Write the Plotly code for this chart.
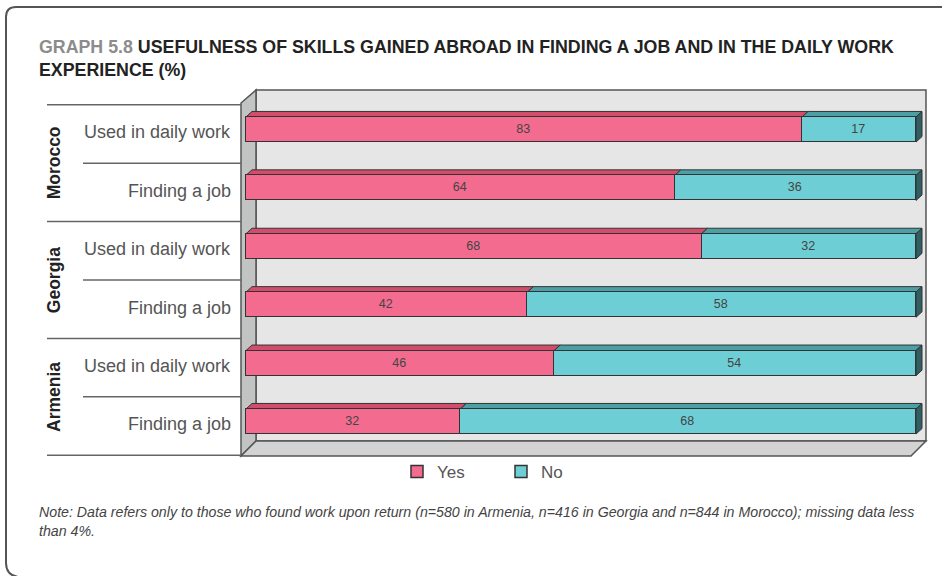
import plotly.graph_objects as go

# ---------------- data ----------------
countries = ["Morocco", "Georgia", "Armenia"]
items = ["Used in daily work", "Finding a job"]
yes_vals = [83, 64, 68, 42, 46, 32]
no_vals = [17, 36, 32, 58, 54, 68]
series_names = ["Yes", "No"]
title_prefix = "GRAPH 5.8"
title_line1 = "USEFULNESS OF SKILLS GAINED ABROAD IN FINDING A JOB AND IN THE DAILY WORK"
title_line2 = "EXPERIENCE (%)"
note_line1 = ("Note: Data refers only to those who found work upon return (n=580 in Armenia, "
              "n=416 in Georgia and n=844 in Morocco); missing data less")
note_line2 = "than 4%."

# ---------------- style ----------------
W, H = 942, 576
PINK, PINK_TOP = "#f36c90", "#d24d6b"
TEAL, TEAL_TOP, TEAL_SIDE = "#6dcfd5", "#4c9fa4", "#2f5f63"
EDGE = "#333333"
FONT = "Liberation Sans, Arial, sans-serif"

# axis mapping (whole figure is the plot area)
X0_PX, SX = 246.0, 6.7          # px of value 0, px per percentage point
Y0_PX, SY = 129.5, 58.4         # px of row 0 centre, px per row
x_range = [-X0_PX / SX, (W - X0_PX) / SX]
y_range = [(H - Y0_PX) / SY, -Y0_PX / SY]   # reversed
BAR_W = 0.43
DX, DY = 6 / SX, 5.5 / SY


def px(x):
    return x / W


def py(y):
    return 1 - y / H


rows = list(range(len(yes_vals)))
fig = go.Figure()
fig.add_trace(go.Bar(
    name=series_names[0], orientation="h", x=yes_vals, y=rows, width=BAR_W,
    marker=dict(color=PINK, line=dict(color=EDGE, width=1.5)),
    text=yes_vals, textposition="inside", insidetextanchor="middle", textangle=0,
    textfont=dict(family=FONT, size=12.5, color="#444444"), hoverinfo="x+name"))
fig.add_trace(go.Bar(
    name=series_names[1], orientation="h", x=no_vals, y=rows, width=BAR_W,
    marker=dict(color=TEAL, line=dict(color=EDGE, width=1.5)),
    text=no_vals, textposition="inside", insidetextanchor="middle", textangle=0,
    textfont=dict(family=FONT, size=12.5, color="#444444"), hoverinfo="x+name"))

shapes = []


def poly_paper(pts, fill, lw=1.5, lc="#555555"):
    path = "M " + " L ".join(f"{px(x):.5f},{py(y):.5f}" for x, y in pts) + " Z"
    shapes.append(dict(type="path", xref="paper", yref="paper", path=path,
                       fillcolor=fill, line=dict(color=lc, width=lw), layer="below"))


# 3D box walls
poly_paper([(256, 90), (926, 90), (926, 441), (256, 441)], "#e6e6e6")
poly_paper([(241, 103), (256, 90), (256, 441), (241, 456)], "#c2c4c4")
poly_paper([(241, 456), (256, 441), (926, 441), (911, 456)], "#d3d3d3")

# outer frame
frame = (f"M {px(950)},{py(7)} L {px(16)},{py(7)} Q {px(6)},{py(7)} {px(6)},{py(17)} "
         f"L {px(6)},{py(563)} Q {px(6)},{py(575)} {px(18)},{py(577)}")
shapes.append(dict(type="path", xref="paper", yref="paper", path=frame,
                   line=dict(color="#555555", width=2), layer="below"))


def poly_data(pts, fill):
    path = "M " + " L ".join(f"{x:.4f},{y:.4f}" for x, y in pts) + " Z"
    shapes.append(dict(type="path", xref="x", yref="y", path=path,
                       fillcolor=fill, line=dict(color=EDGE, width=1), layer="below"))


# bar top faces and right side faces derived from the data
for i, (yv, nv) in enumerate(zip(yes_vals, no_vals)):
    yt, yb = i - BAR_W / 2, i + BAR_W / 2
    poly_data([(0, yt), (DX, yt - DY), (yv + DX, yt - DY), (yv, yt)], PINK_TOP)
    tot = yv + nv
    poly_data([(yv, yt), (yv + DX, yt - DY), (tot + DX, yt - DY), (tot, yt)], TEAL_TOP)
    poly_data([(tot, yt), (tot + DX, yt - DY), (tot + DX, yb - DY), (tot, yb)], TEAL_SIDE)

# label-area separator lines
n_items = len(items)
for k in range(len(rows) + 1):
    yline = k - 0.5 + 0.077
    x_start = 47 if k % n_items == 0 else 83
    shapes.append(dict(type="line", xref="paper", yref="y", x0=px(x_start), x1=px(241),
                       y0=yline, y1=yline, line=dict(color="#666666", width=1.5)))

annotations = []
# item labels
for i in rows:
    annotations.append(dict(text=items[i % n_items], xref="paper", yref="y", x=px(233), y=i + 0.05,
                            xanchor="right", yanchor="middle", showarrow=False,
                            font=dict(family=FONT, size=18, color="#555555")))
# country labels
for g, c in enumerate(countries):
    annotations.append(dict(text=f"<b>{c}</b>", xref="paper", yref="y", x=px(54),
                            y=g * n_items + (n_items - 1) / 2 + 0.08, textangle=-90,
                            xanchor="center", yanchor="middle", showarrow=False,
                            font=dict(family=FONT, size=17.5, color="#222222")))
# title
annotations.append(dict(text=f"<b><span style='color:#8c8c8c'>{title_prefix}</span> {title_line1}</b>",
                        xref="paper", yref="paper", x=px(37), y=py(47), xanchor="left", yanchor="middle",
                        showarrow=False, font=dict(family=FONT, size=17.8, color="#222222")))
annotations.append(dict(text=f"<b>{title_line2}</b>",
                        xref="paper", yref="paper", x=px(37), y=py(70), xanchor="left", yanchor="middle",
                        showarrow=False, font=dict(family=FONT, size=17.8, color="#222222")))
# note
annotations.append(dict(text=f"<i>{note_line1}</i>", xref="paper", yref="paper", x=px(37), y=py(512),
                        xanchor="left", yanchor="middle", showarrow=False,
                        font=dict(family=FONT, size=14.2, color="#444444")))
annotations.append(dict(text=f"<i>{note_line2}</i>", xref="paper", yref="paper", x=px(37), y=py(531),
                        xanchor="left", yanchor="middle", showarrow=False,
                        font=dict(family=FONT, size=14.2, color="#444444")))

fig.update_layout(
    width=W, height=H, margin=dict(l=0, r=0, t=0, b=0),
    paper_bgcolor="white", plot_bgcolor="rgba(0,0,0,0)",
    barmode="stack", bargap=0,
    xaxis=dict(range=x_range, visible=False, fixedrange=True),
    yaxis=dict(range=y_range, visible=False, fixedrange=True),
    shapes=shapes, annotations=annotations,
    showlegend=True,
    legend=dict(orientation="h", x=px(397), xanchor="left", y=py(472), yanchor="middle",
                entrywidth=59, entrywidthmode="pixels", bgcolor="rgba(0,0,0,0)",
                font=dict(family=FONT, size=17, color="#555555"), traceorder="normal"),
    font=dict(family=FONT),
)

fig.write_html("out.html")
